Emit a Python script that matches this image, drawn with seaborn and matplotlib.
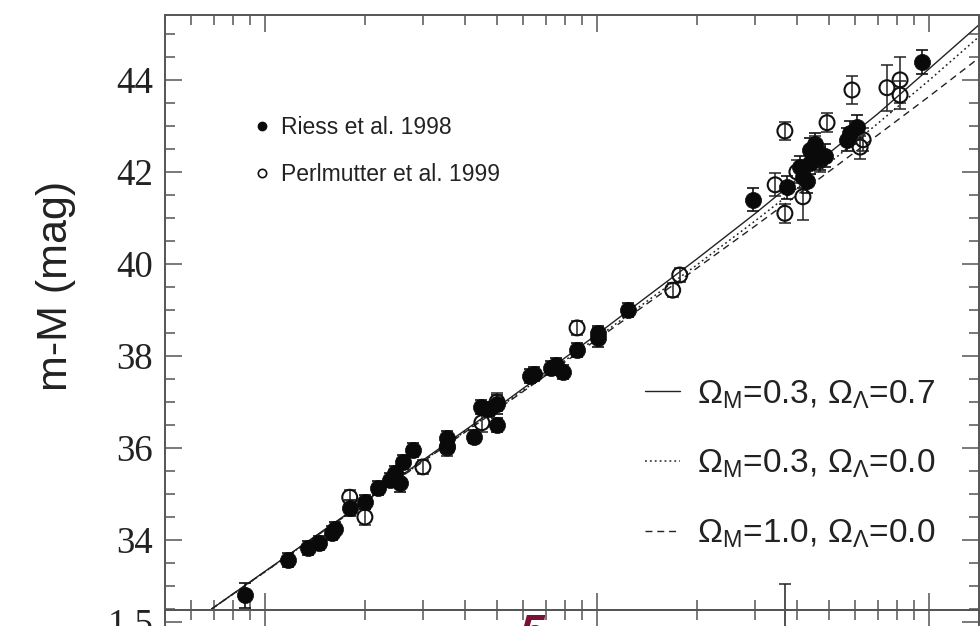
import numpy as np
import pandas as pd
import matplotlib
matplotlib.use("Agg")
import matplotlib.pyplot as plt
from matplotlib.ticker import MultipleLocator, LogLocator, NullFormatter, FixedLocator
from matplotlib.lines import Line2D
import seaborn as sns

# ---------------- data ----------------
riess_z = [0.0087, 0.0117, 0.0135, 0.0145, 0.0159, 0.0163, 0.0180, 0.0200, 0.0219, 0.0238,
           0.0246, 0.0255, 0.0260, 0.0279, 0.0354, 0.0354, 0.0426, 0.0447, 0.0473, 0.0500,
           0.0500, 0.0629, 0.0647, 0.0726, 0.0753, 0.0792, 0.0871, 0.1005, 0.1005, 0.1238,
           0.295, 0.373, 0.409, 0.417, 0.438, 0.454, 0.470, 0.486, 0.438, 0.430, 0.566,
           0.578, 0.607, 0.952]
riess_mu = [32.80, 33.57, 33.83, 33.93, 34.15, 34.25, 34.70, 34.83, 35.13, 35.30,
            35.45, 35.25, 35.70, 35.96, 36.22, 36.05, 36.25, 36.90, 36.85, 36.95,
            36.50, 37.57, 37.60, 37.74, 37.80, 37.65, 38.13, 38.40, 38.50, 39.00,
            41.39, 41.67, 42.10, 41.90, 42.48, 42.60, 42.30, 42.35, 42.20, 41.80, 42.70,
            42.85, 42.98, 44.39]
riess_err = [0.27, 0.15, 0.15, 0.15, 0.15, 0.15, 0.18, 0.15, 0.15, 0.15,
             0.15, 0.20, 0.15, 0.15, 0.15, 0.15, 0.15, 0.15, 0.15, 0.20,
             0.15, 0.15, 0.15, 0.15, 0.15, 0.15, 0.15, 0.20, 0.15, 0.15,
             0.25, 0.25, 0.25, 0.25, 0.25, 0.25, 0.25, 0.25, 0.25, 0.25, 0.25,
             0.25, 0.25, 0.27]

perl_z = [0.0180, 0.0200, 0.0299, 0.0354, 0.0450, 0.0500, 0.0871, 0.169, 0.1775,
          0.344, 0.368, 0.368, 0.417, 0.493, 0.454, 0.586, 0.620, 0.633, 0.747,
          0.818, 0.818, 0.400, 0.470]
perl_mu = [34.93, 34.50, 35.59, 36.00, 36.55, 37.00, 38.61, 39.43, 39.76,
           41.72, 42.89, 41.10, 41.46, 43.07, 42.52, 43.78, 42.54, 42.70, 43.83,
           44.00, 43.67, 42.00, 42.25]
perl_err = [0.15, 0.18, 0.15, 0.17, 0.20, 0.20, 0.15, 0.15, 0.15,
            0.25, 0.20, 0.20, 0.50, 0.20, 0.25, 0.30, 0.25, 0.25, 0.50,
            0.50, 0.30, 0.25, 0.25]

# model curves
model_z = [0.0069, 0.01, 0.02, 0.05, 0.1, 0.2, 0.3, 0.5, 0.7, 1.0, 1.5]
mu_m03_l07 = [32.50, 33.32, 34.84, 36.88, 38.47, 40.11, 41.10, 42.41, 43.26, 44.24, 45.36]
mu_m03_l00 = [32.50, 33.31, 34.83, 36.85, 38.40, 39.98, 40.94, 42.19, 43.05, 43.99, 45.10]
mu_m10_l00 = [32.50, 33.31, 34.82, 36.83, 38.36, 39.91, 40.83, 42.01, 42.80, 43.64, 44.62]

legend_points = ["Riess et al. 1998", "Perlmutter et al. 1999"]
legend_models = [r"$\Omega_{\rm M}$=0.3, $\Omega_{\Lambda}$=0.7",
                 r"$\Omega_{\rm M}$=0.3, $\Omega_{\Lambda}$=0.0",
                 r"$\Omega_{\rm M}$=1.0, $\Omega_{\Lambda}$=0.0"]

y_ticks = [34, 36, 38, 40, 42, 44]

# residual panel (only its very top is visible)
resid_ticks = [1.5]
resid_z = [0.368]
resid_val = [0.90]
resid_err = [1.42]

# ---------------- style ----------------
sns.set_theme(style="ticks")
plt.rcParams["font.family"] = ["Liberation Sans", "DejaVu Sans"]
plt.rcParams["mathtext.fontset"] = "custom"
plt.rcParams["mathtext.rm"] = "Liberation Sans"
plt.rcParams["mathtext.it"] = "Liberation Sans:italic"
plt.rcParams["mathtext.bf"] = "Liberation Sans:bold"

W, H = 980, 626
fig = plt.figure(figsize=(9.8, 6.26), dpi=100)
L, R, T, B = 165, 979, 15, 610
ax = fig.add_axes([L / W, 1 - B / H, (R - L) / W, (B - T) / H])
ax2 = fig.add_axes([L / W, 1 - 760 / H, (R - L) / W, 150 / H])

spine_c = "#555555"
for a in (ax, ax2):
    a.set_xscale("log")
    a.set_xlim(0.005, 1.414)
    a.set_facecolor("white")
    for s in a.spines.values():
        s.set_color(spine_c)
        s.set_linewidth(1.4)
    a.xaxis.set_minor_locator(LogLocator(base=10, subs=np.arange(2, 10)))
    a.xaxis.set_minor_formatter(NullFormatter())
    a.tick_params(which="both", direction="in", top=True, right=True,
                  labelbottom=False, color=spine_c, width=1.1)
    a.tick_params(which="major", length=12)
    a.tick_params(which="minor", length=7)

# models
df_m = pd.DataFrame({"z": model_z, "a": mu_m03_l07, "b": mu_m03_l00, "c": mu_m10_l00})
sns.lineplot(data=df_m, x="z", y="a", ax=ax, color="#222222", lw=1.0, linestyle="-", zorder=2)
sns.lineplot(data=df_m, x="z", y="b", ax=ax, color="#222222", lw=1.1, linestyle=(0, (1.2, 2.0)), zorder=2)
sns.lineplot(data=df_m, x="z", y="c", ax=ax, color="#222222", lw=1.0, linestyle=(0, (5, 3.5)), zorder=2)

# data points
ax.errorbar(perl_z, perl_mu, yerr=perl_err, fmt="none", ecolor="#222222",
            elinewidth=1.1, capsize=4.5, capthick=1.1, zorder=3)
sns.scatterplot(x=perl_z, y=perl_mu, ax=ax, marker="o", s=115, facecolor="none",
                edgecolor="#111111", linewidth=1.5, zorder=4)
ax.errorbar(riess_z, riess_mu, yerr=riess_err, fmt="none", ecolor="#111111",
            elinewidth=1.2, capsize=4.5, capthick=1.2, zorder=5)
sns.scatterplot(x=riess_z, y=riess_mu, ax=ax, marker="o", s=135, color="#0a0a0a",
                edgecolor="#0a0a0a", linewidth=0.5, zorder=6)

ax.set_ylim(32.48, 45.41)
ax.yaxis.set_major_locator(FixedLocator(y_ticks))
ax.yaxis.set_minor_locator(MultipleLocator(0.5))
ax.tick_params(axis="y", which="major", labelsize=26.5, pad=8.5)
for lab in ax.get_yticklabels():
    lab.set_fontfamily("Liberation Serif")
    lab.set_color("#222222")
ax.set_xlabel("")
ax.set_ylabel("m-M (mag)", fontsize=31, color="#222222")
ax.yaxis.set_label_coords((76 - L) / (R - L), (B - 286) / (B - T))

# legends
h1 = [Line2D([], [], marker="o", ls="none", ms=6, mfc="#0a0a0a", mec="#0a0a0a"),
      Line2D([], [], marker="o", ls="none", ms=6, mfc="none", mec="#111111", mew=1.2)]
leg1 = ax.legend(h1, legend_points, loc="upper left", frameon=False,
                 bbox_to_anchor=((255 - L) / (R - L), (B - 116) / (B - T)),
                 borderpad=0, borderaxespad=0, fontsize=16.5, handlelength=0.6,
                 handletextpad=0.55, labelspacing=1.05, labelcolor="#222222")
ax.add_artist(leg1)

h2 = [Line2D([], [], color="#222222", lw=1.0, ls="-"),
      Line2D([], [], color="#222222", lw=1.1, ls=(0, (1.2, 2.0))),
      Line2D([], [], color="#222222", lw=1.0, ls=(0, (5, 3.5)))]
ax.legend(h2, legend_models, loc="lower right", frameon=False,
          bbox_to_anchor=((935 - L) / (R - L), (B - 550) / (B - T)),
          borderpad=0, borderaxespad=0, fontsize=24, handlelength=1.05,
          handletextpad=0.5, labelspacing=1.12, labelcolor="#222222")

# residual panel (cropped)
ax2.set_ylim(-1.5, 1.75)
ax2.yaxis.set_major_locator(FixedLocator(resid_ticks))
ax2.yaxis.set_minor_locator(MultipleLocator(0.25))
ax2.tick_params(axis="y", which="major", labelsize=26.5, pad=8.5)
for lab in ax2.get_yticklabels():
    lab.set_fontfamily("Liberation Serif")
    lab.set_color("#222222")
eb = ax2.errorbar(resid_z, resid_val, yerr=resid_err, fmt="none", ecolor="#222222",
                  elinewidth=1.1, capsize=4.5, capthick=1.1)
for art in eb.lines[1] + eb.lines[2]:
    art.set_clip_on(False)
ax2.set_zorder(ax.get_zorder() + 1)
ax2.patch.set_alpha(0)

# cropped caption fragment
fig.text(532 / W, 1 - 614 / H, "5", color="#7a1236", fontsize=32,
         fontweight="bold", style="italic", ha="center", va="top")

fig.savefig("out.png", dpi=100)
